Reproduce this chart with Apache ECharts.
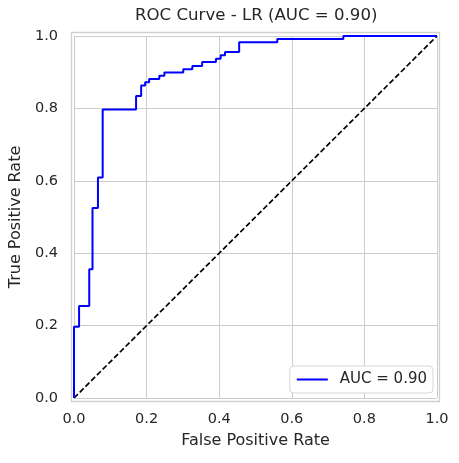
<!DOCTYPE html>
<html>
<head>
<meta charset="utf-8">
<script src="https://cdn.jsdelivr.net/npm/echarts@6/dist/echarts.min.js"></script>
<style>
  html, body { margin: 0; padding: 0; background: #fff; }
  #chart { width: 459px; height: 463px; }
</style>
</head>
<body>
<div id="chart"></div>
<script>
// ROC curve corner points
var fpr = [0, 0, 0.014, 0.014, 0.042, 0.042, 0.051, 0.051, 0.066, 0.066, 0.079, 0.079,
  0.171, 0.171, 0.185, 0.185, 0.196, 0.196, 0.207, 0.207, 0.235, 0.235, 0.249, 0.249,
  0.301, 0.301, 0.326, 0.326, 0.353, 0.353, 0.391, 0.391, 0.404, 0.404, 0.416, 0.416,
  0.455, 0.455, 0.560, 0.560, 0.742, 0.742, 1];
var tpr = [0, 0.197, 0.197, 0.254, 0.254, 0.356, 0.356, 0.525, 0.525, 0.609, 0.609, 0.797,
  0.797, 0.834, 0.834, 0.863, 0.863, 0.872, 0.872, 0.881, 0.881, 0.890, 0.890, 0.899,
  0.899, 0.908, 0.908, 0.917, 0.917, 0.928, 0.928, 0.937, 0.937, 0.947, 0.947, 0.956,
  0.956, 0.983, 0.983, 0.992, 0.992, 1, 1];
var diagX = [0, 1];
var diagY = [0, 1];
var aucLabel = 'AUC = 0.90';

var txt = '#262626';
var font = 'DejaVu Sans';

function drawRoc() {
  var chart = echarts.init(document.getElementById('chart'));

  var option = {
    backgroundColor: '#ffffff',
    animation: false,
    title: {
      text: 'ROC Curve - LR (AUC = 0.90)',
      left: 135,
      top: 7,
      padding: 0,
      textStyle: { color: txt, fontFamily: font, fontSize: 16.6, fontWeight: 'normal' }
    },
    grid: { left: 74, right: 22, top: 36, bottom: 65 },
    legend: {
      data: [{ name: aucLabel, icon: 'rect' }],
      right: 26,
      bottom: 70,
      itemWidth: 31,
      itemHeight: 2,
      backgroundColor: '#ffffff',
      borderColor: '#d6d6d6',
      borderWidth: 1,
      borderRadius: 4,
      padding: [6, 6, 6, 7],
      textStyle: { color: txt, fontFamily: font, fontSize: 15, padding: [0, 0, 0, 7] }
    },
    xAxis: {
      type: 'value',
      min: 0,
      max: 1,
      interval: 0.2,
      name: 'False Positive Rate',
      nameLocation: 'middle',
      nameGap: 35,
      nameTextStyle: { color: txt, fontFamily: font, fontSize: 16 },
      axisLine: { show: false },
      axisTick: { show: false },
      axisLabel: { color: txt, fontFamily: font, fontSize: 14.5, margin: 14,
        formatter: function (v) { return v.toFixed(1); } },
      splitLine: { show: true, lineStyle: { color: '#cccccc', width: 1 } }
    },
    yAxis: {
      type: 'value',
      min: 0,
      max: 1,
      interval: 0.2,
      name: 'True Positive Rate',
      nameLocation: 'middle',
      nameGap: 46,
      nameTextStyle: { color: txt, fontFamily: font, fontSize: 16 },
      axisLine: { show: false },
      axisTick: { show: false },
      axisLabel: { color: txt, fontFamily: font, fontSize: 14.5, margin: 16,
        formatter: function (v) { return v.toFixed(1); } },
      splitLine: { show: true, lineStyle: { color: '#cccccc', width: 1 } }
    },
    graphic: [{
      type: 'rect',
      shape: { x: 71.5, y: 32.5, width: 368, height: 369 },
      style: { fill: 'none', stroke: '#d0d0d0', lineWidth: 1.3 },
      silent: true
    }],
    series: [
      {
        name: 'chance',
        type: 'line',
        data: diagX.map(function (x, i) { return [x, diagY[i]]; }),
        symbol: 'none',
        lineStyle: { color: '#000000', width: 1.7, type: [5.5, 2.6] },
        z: 2
      },
      {
        name: aucLabel,
        type: 'line',
        data: fpr.map(function (x, i) { return [x, tpr[i]]; }),
        symbol: 'none',
        itemStyle: { color: '#0000ff' },
        lineStyle: { color: '#0000ff', width: 2 },
        z: 3
      }
    ]
  };

  chart.setOption(option);
}

window.onload = function () {
  drawRoc();
};
</script>
</body>
</html>
